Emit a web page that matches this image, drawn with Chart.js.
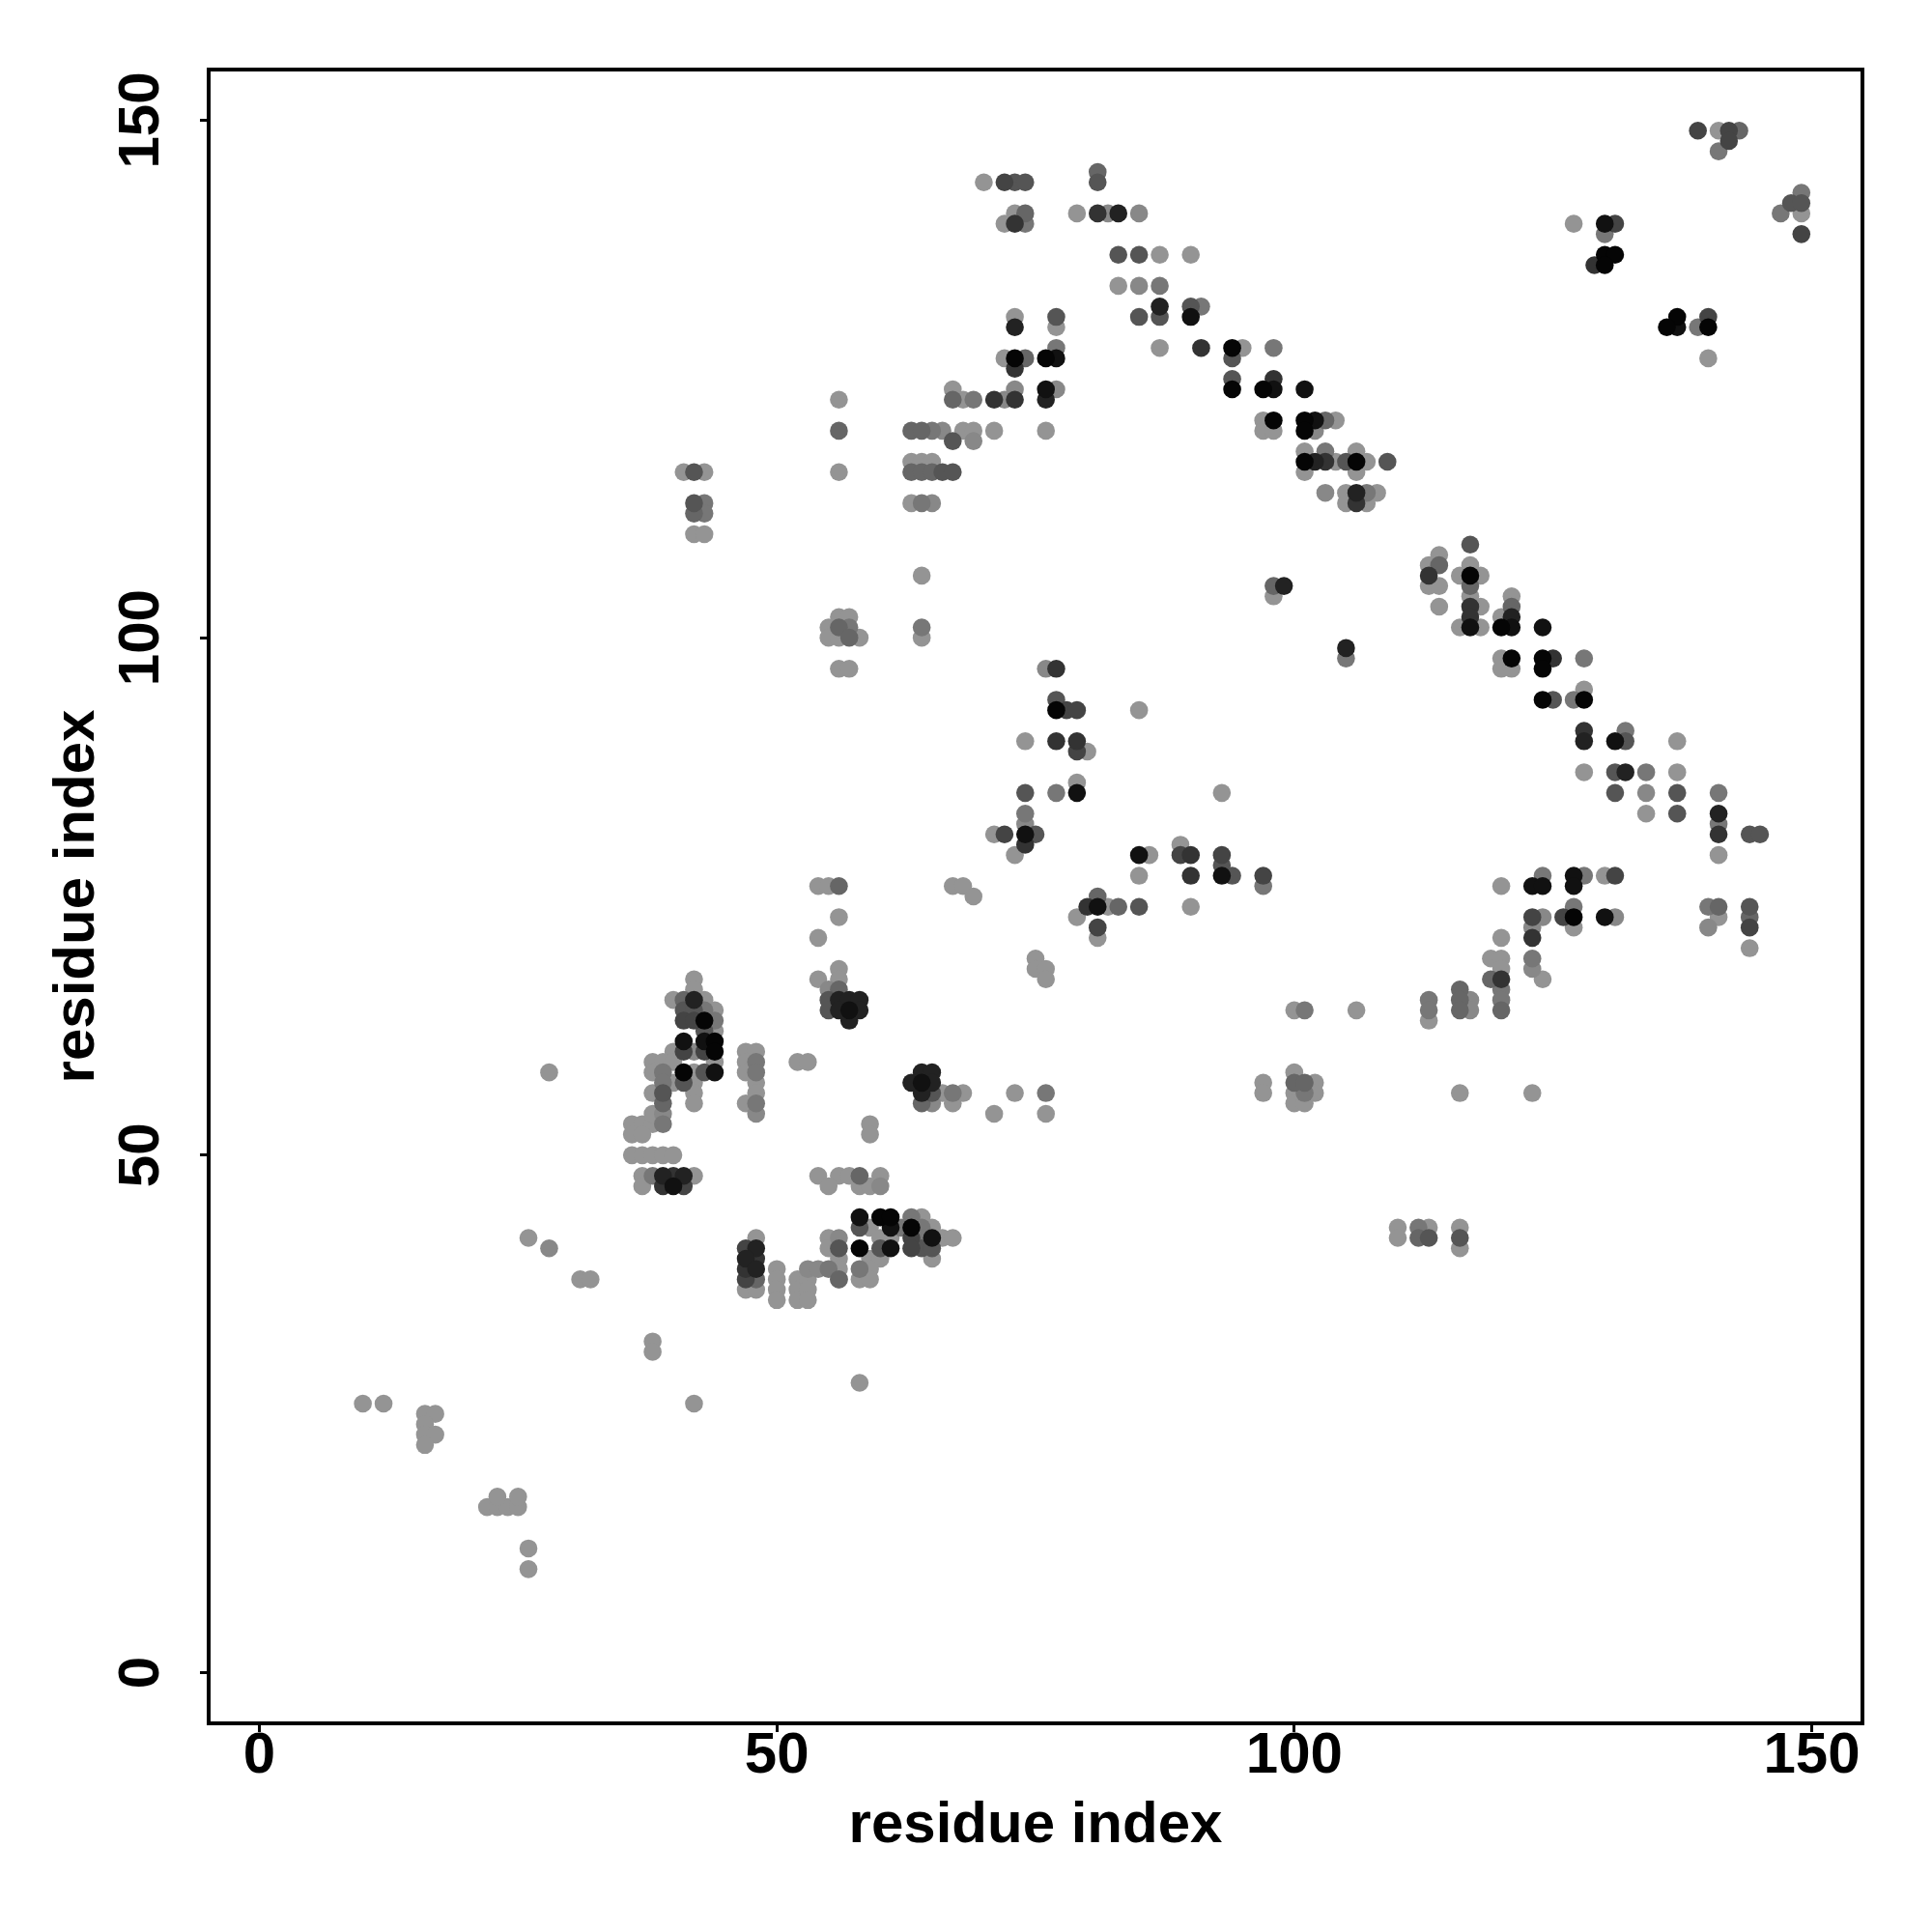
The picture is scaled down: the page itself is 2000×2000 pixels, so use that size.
<!DOCTYPE html>
<html><head><meta charset="utf-8">
<script src="https://cdn.jsdelivr.net/npm/chart.js@4.4.1/dist/chart.umd.min.js"></script>
<style>html,body{margin:0;padding:0;background:#fff}#wrap{width:2000px;height:2000px}</style>
</head><body><div id="wrap"><canvas id="c" width="2000" height="2000"></canvas></div>
<script>
const xTicks=[0,50,100,150];
const yTicks=[0,50,100,150];
const xTitle="residue index";
const yTitle="residue index";

const gray148=[[10,26],[12,26],[16,25],[17,25],[16,24],[16,23],[17,23],[16,22],[22,16],[23,16],[24,16],[25,16],[23,17],[25,17],[26,12],[26,10],[26,42],[31,38],[32,38],[38,32],[38,31],[42,26],[58,28],[28,58],
[36,53],[37,53],[38,53],[36,52],[37,52],[38,54],[38,56],[36,50],[37,50],[38,50],[39,50],[40,50],[37,48],[42,48],[37,47],
[42,67],[42,66],[40,65],[43,65],[44,64],[44,62],[40,60],[38,59],[39,59],[40,59],[44,59],[38,58],[42,58],[40,57],[42,57],[42,56],[42,55],
[47,60],[48,60],[47,59],[47,58],[48,57],[48,56],[47,55],[52,59],[53,59],
[48,42],[47,37],[48,37],[50,39],[50,38],[50,37],[50,36],[52,38],[52,37],[52,36],[53,38],[53,37],[53,36],
[55,42],[55,41],[54,48],[56,48],[55,47],[57,48],[60,48],[58,47],[59,47],[64,44],[59,43],[65,43],[60,42],[61,42],[66,42],[67,42],[56,40],[59,40],[60,40],[65,40],[56,39],[59,39],[56,38],[58,38],[59,38],[59,53],[59,52],
[54,76],[55,76],[56,73],[54,71],[56,68],[54,67],[56,67],
[55,101],[55,100],[56,102],[56,100],[57,102],[58,100],[56,97],[57,97],[56,123],[56,116],[64,100],[64,106],
[41,116],[43,116],[42,110],[43,110],
[66,56],[68,56],[67,55],[71,54],[76,54],[73,56],
[67,76],[68,76],[69,75],[75,69],[75,68],[76,68],[76,67],[100,64],
[97,57],[97,56],[100,58],[102,57],[100,56],[102,56],[100,55],[101,55],
[85,93],[74,90],[80,89],[79,86],[93,85],[71,81],[73,79],[89,80],[86,79],[85,77],[82,74],[90,74],[79,73],[81,71],
[70,144],[73,141],[72,140],[79,141],[87,137],[90,137],[83,134],[77,130],[73,131],[87,128],[95,128],[72,127],[67,124],[68,123],[97,121],[104,121],[68,120],[69,120],[71,120],[76,120],[97,120],[98,120],[101,118],[63,117],[64,117],[65,117],[104,117],[101,116],[105,114],[63,113],[105,113],[98,104],
[141,149],[149,141],[127,140],[140,127],[106,118],[107,117],[106,116],[108,114],[107,113],[114,108],[113,107],[117,107],[116,106],[118,106],[113,105],[114,105],[117,104],[121,104],[114,103],[118,103],
[120,102],[116,101],[118,101],[120,98],[120,97],[121,97],[128,95],[137,90],[128,87],[137,87],[134,83],[141,79],[130,77],[120,76],[141,73],[127,72],[120,71],[144,70],[119,69],[120,69],[120,68],[124,67],[106,64],[113,63],[116,56],[123,56],
[110,43],[110,42],[113,43],[116,43],[116,41]];

const gray136=[[28,41],[39,54],[42,60],[60,47],[56,42],[55,66],[53,39],[54,39],[48,54],[65,55],[82,141],[85,141],[85,134],[73,124],[77,124],[72,123],[66,120],[102,120],[69,119],[65,113],[103,114],[74,82],[76,97],[134,85],[124,73],[131,73],[123,72],[140,72],[123,68],[117,65],[117,64]];

const gray119=[[39,53],[38,48],[39,58],[39,57],[43,64],[44,63],[48,59],[48,58],[48,55],[55,39],[58,39],[63,44],[64,43],[62,43],[64,42],[57,101],[64,101],[64,113],[43,113],[43,112],[65,120],[67,56],[76,56],[101,64],[101,56],[77,85],[74,83],[97,76],[74,140],[87,134],[91,132],[77,128],[98,128],[103,118],[69,123],[141,147],[149,143],[147,141],[130,139],[139,130],[107,114],[128,98],[127,94],[132,91],[134,87],[141,85],[141,82],[124,77],[128,77],[127,74],[140,74],[123,69],[120,66],[113,65],[120,65],[113,64],[112,43],[105,98]];

const gray102=[[39,55],[41,65],[56,101],[57,100],[56,120],[56,76],[56,66],[64,55],[100,57],[101,57],[63,120],[64,120],[67,123],[63,116],[64,116],[65,116],[81,145],[74,141],[103,121],[74,127],[98,105],[143,149],[114,107],[117,105],[121,103],[141,74],[144,73],[119,67],[116,66],[116,65],[116,64],[120,64],[112,42],[58,48],[56,38],[48,38],[83,74],[81,75],[42,112]];

const gray85=[[39,56],[41,64],[42,64],[43,62],[43,58],[41,57],[56,41],[58,43],[60,41],[64,41],[65,41],[55,65],[55,64],[65,56],[77,94],[74,85],[75,81],[93,78],[94,77],[85,74],[73,144],[74,144],[81,144],[83,137],[85,137],[90,132],[85,131],[87,131],[77,131],[94,127],[94,125],[67,119],[66,116],[67,116],[105,117],[109,117],[117,109],[131,87],[125,94],[131,85],[137,85],[137,83],[144,81],[145,81],[144,74],[132,90],[148,142],[149,142],[113,42],[116,42],[42,116],[42,113]];

const gray68=[[41,47],[41,63],[42,63],[41,60],[43,60],[47,41],[47,38],[63,42],[63,41],[72,144],[139,149],[142,149],[142,148],[131,140],[140,131],[149,139],[72,81],[78,93],[79,93],[79,89],[89,79],[93,79],[97,77],[81,72],[123,73],[126,73],[131,77],[144,72]];

const gray51=[[40,48],[39,47],[48,40],[47,39],[73,140],[81,141],[73,126],[71,123],[73,123],[91,128],[98,125],[103,117],[106,113],[129,136],[113,106],[117,103],[117,102],[125,98],[128,91],[141,81],[123,71],[120,67],[77,97],[77,90],[79,90],[74,80],[90,79],[90,77],[80,74]];

const gray34=[[39,48],[41,48],[42,65],[48,41],[47,40],[48,39],[56,65],[57,65],[58,65],[56,64],[58,64],[57,63],[63,57],[64,58],[65,58],[65,57],[64,56],[83,141],[87,132],[73,130],[76,123],[102,117],[106,114],[121,102],[105,99],[132,87],[128,90],[141,83],[99,105]];

const gray17=[[40,47],[41,61],[43,61],[44,58],[58,44],[61,43],[65,42],[61,41],[64,57],[57,64],[77,127],[76,124],[98,124],[101,124],[102,121],[90,131],[137,130],[130,140],[117,101],[121,101],[124,101],[131,90],[127,77],[123,76],[124,76],[127,76],[130,73],[74,81],[79,85],[85,79],[93,77],[81,74]];

const gray5=[[43,63],[44,61],[44,60],[41,58],[58,41],[60,44],[61,44],[63,43],[73,127],[76,127],[94,128],[94,124],[97,124],[98,121],[101,121],[101,120],[101,117],[130,137],[131,137],[130,136],[137,131],[136,130],[140,130],[106,117],[117,106],[120,101],[121,98],[124,98],[124,97],[124,94],[128,94],[127,73],[77,93]];

const shadeLevels=[148,136,119,102,85,68,51,34,17,5];
const shadeSeries=[gray148,gray136,gray119,gray102,gray85,gray68,gray51,gray34,gray17,gray5];

const FONT="'Liberation Sans', Arial, Helvetica, sans-serif";
Chart.defaults.font.family=FONT;

const datasets=shadeSeries.map((pts,i)=>{
  const v=shadeLevels[i];
  const col=`rgb(${v},${v},${v})`;
  return {
    data:pts.map(p=>({x:p[0],y:p[1]})),
    backgroundColor:col,borderColor:col,borderWidth:0,
    pointRadius:9.3,pointHoverRadius:9.3,
    order:shadeLevels.length-i
  };
});

const framePlugin={
  id:'frame',
  beforeDatasetsDraw(chart){
    const a=chart.chartArea,ctx=chart.ctx;
    ctx.save();ctx.strokeStyle='#000';ctx.lineWidth=4;
    ctx.strokeRect(a.left,a.top,a.right-a.left,a.bottom-a.top);
    ctx.restore();
  }
};

const tickFont={family:FONT,size:60,weight:'bold',lineHeight:0.8};
const titleFont={family:FONT,size:60,weight:'bold',lineHeight:1.2};
const gridOpts={display:true,drawOnChartArea:false,drawTicks:true,tickLength:9,lineWidth:3,tickWidth:3,color:'#000',tickColor:'#000'};

new Chart(document.getElementById('c'),{
  type:'scatter',
  data:{datasets},
  plugins:[framePlugin],
  options:{
    responsive:false,animation:false,devicePixelRatio:1,events:[],
    layout:{padding:{top:72,right:72,left:0,bottom:0}},
    plugins:{legend:{display:false},tooltip:{enabled:false}},
    scales:{
      x:{type:'linear',min:-4.9,max:154.9,
        afterBuildTicks:s=>{s.ticks=xTicks.map(v=>({value:v}));},
        afterFit:s=>{s.height=216;},
        ticks:{font:tickFont,color:'#000',padding:1.4,maxRotation:0,minRotation:0,autoSkip:false},
        grid:gridOpts,border:{display:false},
        title:{display:true,text:xTitle,font:titleFont,color:'#000',padding:{top:0,bottom:74}}
      },
      y:{type:'linear',min:-4.9,max:154.9,
        afterBuildTicks:s=>{s.ticks=yTicks.map(v=>({value:v}));},
        afterFit:s=>{s.width=216;},
        ticks:{font:tickFont,color:'#000',padding:9,minRotation:90,maxRotation:90,crossAlign:'center',autoSkip:false},
        grid:gridOpts,border:{display:false},
        title:{display:true,text:yTitle,font:titleFont,color:'#000',padding:{top:44,bottom:0}}
      }
    }
  }
});
</script></body></html>
